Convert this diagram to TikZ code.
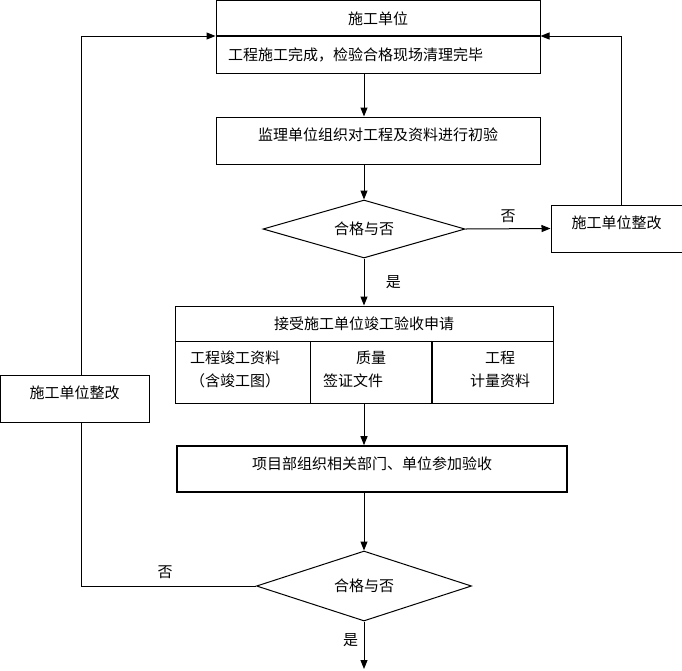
\documentclass[tikz,border=0pt]{standalone}
\usepackage{fontspec}
\setmainfont{Noto Sans CJK SC}
\usepackage{tikz}
\usetikzlibrary{shapes.geometric, arrows.meta}
\tikzstyle{every node}=[font=\fontsize{15}{18}\selectfont]
\tikzstyle{box}=[draw, rectangle, inner sep=0pt, line width=1pt]
\tikzstyle{upper}=[text depth=12pt]
\tikzstyle{decision}=[draw, diamond, aspect=3.5, inner sep=0pt, line width=1pt]
\tikzstyle{arrow}=[->, >={Triangle[length=9pt, width=7pt]}, line width=1pt]

\begin{document}
\begin{tikzpicture}[x=1pt, y=-1pt]
      \useasboundingbox (0,0) rectangle (682,670);

      \node [box, minimum width=324pt, minimum height=36pt] (unit) at (378,18.5) {施工单位};
      \node [box, minimum width=324pt, minimum height=37pt, text width=300pt, inner xsep=12pt, align=left] (done) at (378,55) {工程施工完成，检验合格现场清理完毕};
      \draw [line width=1.6pt] (done.north west) -- (done.north east);

      \node [box, upper, minimum width=324pt, minimum height=47pt] (check) at (378,140.5) {监理单位组织对工程及资料进行初验};
      \node [decision, minimum width=202pt, minimum height=58pt] (ok-1) at (364,229) {合格与否};
      \node [box, upper, minimum width=131pt, minimum height=47pt] (fix-r) at (616.5,228.5) {施工单位整改};

      \node [box, minimum width=378pt, minimum height=35pt] (apply) at (364,323.5) {接受施工单位竣工验收申请};
      \node [box, minimum width=135pt, minimum height=62pt] (doc-a) at (242.5,372) {};
      \node [box, minimum width=122pt, minimum height=62pt] (doc-b) at (371,372) {};
      \node [box, minimum width=121pt, minimum height=62pt] (doc-c) at (492.5,372) {};
      \draw [line width=1.6pt] (doc-c.north west) -- (doc-c.south west);
      \foreach \t/\x/\y [count=\i] in {工程竣工资料/235/358, （含竣工图）/235/381, 质量/371/358, 签证文件/353/381, 工程/500/358, 计量资料/500/381}{
        \node [] (text-\i) at (\x,\y) {\t};
      }

      \node [box, upper, line width=1.6pt, minimum width=390pt, minimum height=46pt] (accept) at (372,469) {项目部组织相关部门、单位参加验收};
      \node [decision, minimum width=215pt, minimum height=70pt] (ok-2) at (364,586) {合格与否};
      \node [box, upper, minimum width=149pt, minimum height=47pt] (fix-l) at (74.5,398.5) {施工单位整改};
      \coordinate (end) at (364,669);

      \draw [arrow] (done.south -| ok-1) -- (check.north -| ok-1);
      \draw [arrow] (check.south -| ok-1) -- (ok-1.north);
      \draw [arrow] (ok-1.east) -- node [above=2pt] {否} (fix-r.west);
      \draw [arrow] ([xshift=4.5pt]fix-r.north) |- (done.north east);
      \draw [arrow] (ok-1.south) -- node [right=18pt] {是} (apply.north);
      \draw [arrow] (doc-b.south -| ok-1) -- (accept.north -| ok-1);
      \draw [arrow] (accept.south -| ok-1) -- (ok-2.north);
      \draw (ok-2.west) -- node [above=4pt, pos=0.52] {否} ([xshift=6.5pt]ok-2.west -| fix-l.south) -- ([xshift=6.5pt]fix-l.south);
      \draw [arrow] ([xshift=6.5pt]fix-l.north) |- (done.north west);
      \draw [arrow] (ok-2.south) -- node [left=2pt, pos=0.4] {是} (end);
    \end{tikzpicture}
\end{document}
